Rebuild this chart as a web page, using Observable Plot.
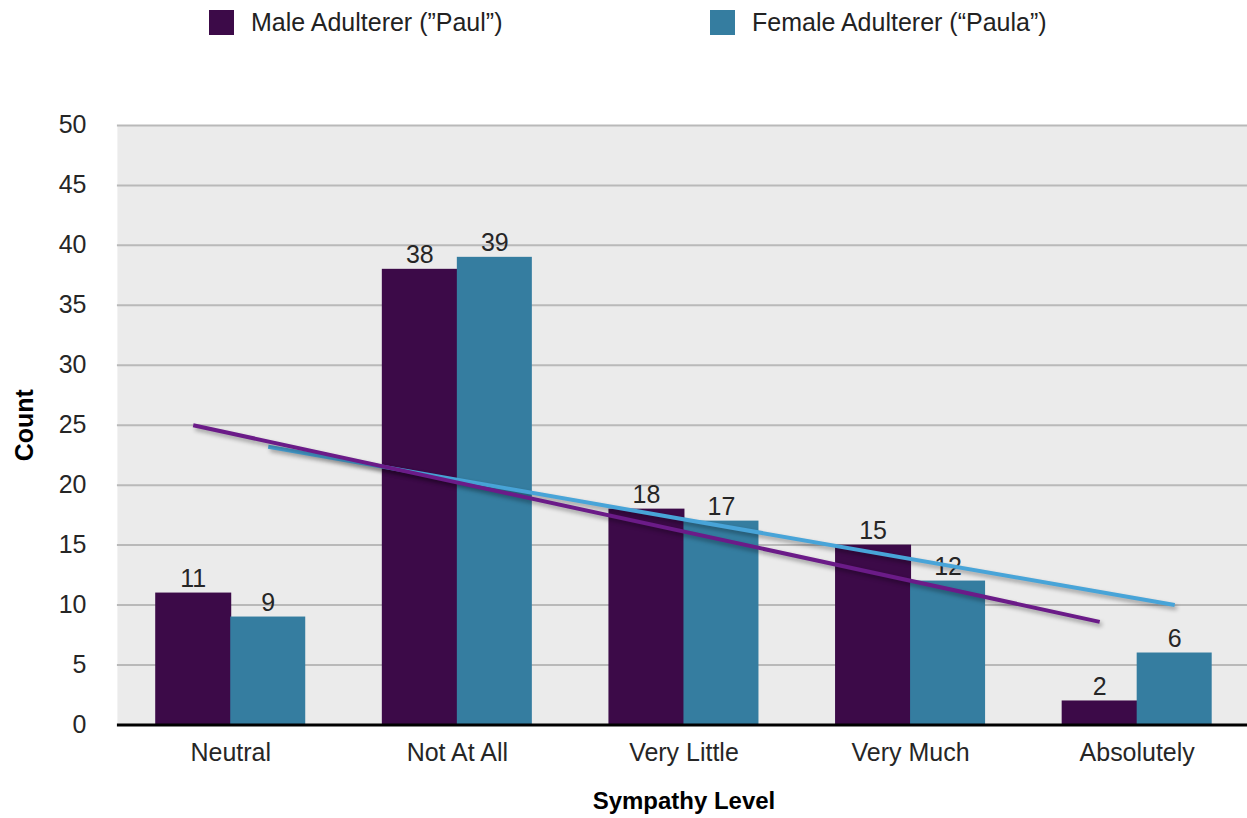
<!DOCTYPE html>
<html>
<head>
<meta charset="utf-8">
<script src="https://cdn.jsdelivr.net/npm/d3@7"></script>
<script src="https://cdn.jsdelivr.net/npm/@observablehq/plot@0.6"></script>
<style>
  html, body { margin: 0; padding: 0; background: #fff; overflow: hidden; }
  #wrap { position: relative; width: 1250px; font-family: "Liberation Sans", Arial, Helvetica, sans-serif; color: #222; }
  #legend { position: relative; height: 50px; }
  .item { position: absolute; top: 0; display: flex; align-items: center; height: 44px; font-size: 25px; }
  .sw { width: 25px; height: 25px; margin-right: 17px; }
  svg { display: block; }
</style>
</head>
<body>
<div id="wrap">
  <div id="legend"></div>
  <div id="chart"></div>
</div>
<script>
const categories = ["Neutral", "Not At All", "Very Little", "Very Much", "Absolutely"];
const maleValues = [11, 38, 18, 15, 2];
const femaleValues = [9, 39, 17, 12, 6];
const seriesNames = ["Male Adulterer (\u201DPaul\u201D)", "Female Adulterer (\u201CPaula\u201D)"];
const yTicks = [0, 5, 10, 15, 20, 25, 30, 35, 40, 45, 50];

const barColors = ["#3c0a48", "#357da0"];
const lineColors = ["#6b1b88", "#48a4d8"];

// legend
const legendX = [209, 710];
const legend = document.getElementById("legend");
seriesNames.forEach((name, i) => {
  const it = document.createElement("div");
  it.className = "item";
  it.style.left = legendX[i] + "px";
  const sw = document.createElement("div");
  sw.className = "sw";
  sw.style.background = barColors[i];
  const tx = document.createElement("span");
  tx.textContent = name;
  it.appendChild(sw); it.appendChild(tx);
  legend.appendChild(it);
});

const male = categories.map((c, i) => ({cat: c, value: maleValues[i]}));
const female = categories.map((c, i) => ({cat: c, value: femaleValues[i]}));

// linear trendline (least squares over category index), computed from the data
function trend(values) {
  const n = values.length;
  const mx = d3.mean(values, (d, i) => i);
  const my = d3.mean(values);
  const sxy = d3.sum(values, (d, i) => (i - mx) * (d - my));
  const sxx = d3.sum(values, (d, i) => (i - mx) ** 2);
  const b = sxy / sxx, a = my - b * mx;
  return [{cat: categories[0], value: a}, {cat: categories[n - 1], value: a + b * (n - 1)}];
}
const maleTrend = trend(maleValues);
const femaleTrend = trend(femaleValues);

const W = 1251, mL = 117, mR = 0;
const pIn = 0.338, pOut = 0.169;
const step = (W - mL - mR) / (categories.length - pIn + 2 * pOut);
const bw = step * (1 - pIn);
const half = bw / 2;

const chart = Plot.plot({
  width: W,
  height: 768,
  marginTop: 75,
  marginBottom: 93,
  marginLeft: mL,
  marginRight: mR,
  style: {fontFamily: "'Liberation Sans', Arial, Helvetica, sans-serif", fontSize: "25px", color: "#262626", background: "transparent", overflow: "visible"},
  x: {domain: categories, paddingInner: pIn, paddingOuter: pOut, round: false, label: null, tickSize: 0, tickPadding: 18},
  y: {domain: [0, 50], ticks: yTicks, label: null, tickSize: 0, tickPadding: 31},
  marks: [
    Plot.frame({fill: "#ebebeb", stroke: null}),
    Plot.ruleY(yTicks.filter(d => d > 0), {stroke: "#b9b9b9", strokeWidth: 2}),
    Plot.barY(male, {x: "cat", y: "value", fill: barColors[0], insetRight: half - 1}),
    Plot.barY(female, {x: "cat", y: "value", fill: barColors[1], insetLeft: half}),
    Plot.ruleY([0], {stroke: "#000", strokeWidth: 3}),
    Plot.text(male, {x: "cat", y: "value", text: d => String(d.value), dx: -half / 2, dy: -6, lineAnchor: "bottom", fill: "#262626", fontSize: 25}),
    Plot.text(female, {x: "cat", y: "value", text: d => String(d.value), dx: half / 2, dy: -6, lineAnchor: "bottom", fill: "#262626", fontSize: 25}),
    Plot.line(femaleTrend, {x: "cat", y: "value", dx: half / 2, stroke: lineColors[1], strokeWidth: 4, strokeLinecap: "butt"}),
    Plot.line(maleTrend, {x: "cat", y: "value", dx: -half / 2, stroke: lineColors[0], strokeWidth: 4, strokeLinecap: "butt"}),
    Plot.text(["Count"], {frameAnchor: "left", text: d => d, dx: -92, rotate: -90, textAnchor: "middle", lineAnchor: "middle", fontWeight: "bold", fontSize: 25, fill: "#000"}),
    Plot.text(["Sympathy Level"], {frameAnchor: "bottom", text: d => d, dy: 76, textAnchor: "middle", lineAnchor: "middle", fontWeight: "bold", fontSize: 24, fill: "#000"})
  ]
});
d3.select(chart).selectAll('g[aria-label="line"] path')
  .style("filter", "drop-shadow(2px 3px 2px rgba(0,0,0,0.35))");
document.getElementById("chart").appendChild(chart);
</script>
</body>
</html>
